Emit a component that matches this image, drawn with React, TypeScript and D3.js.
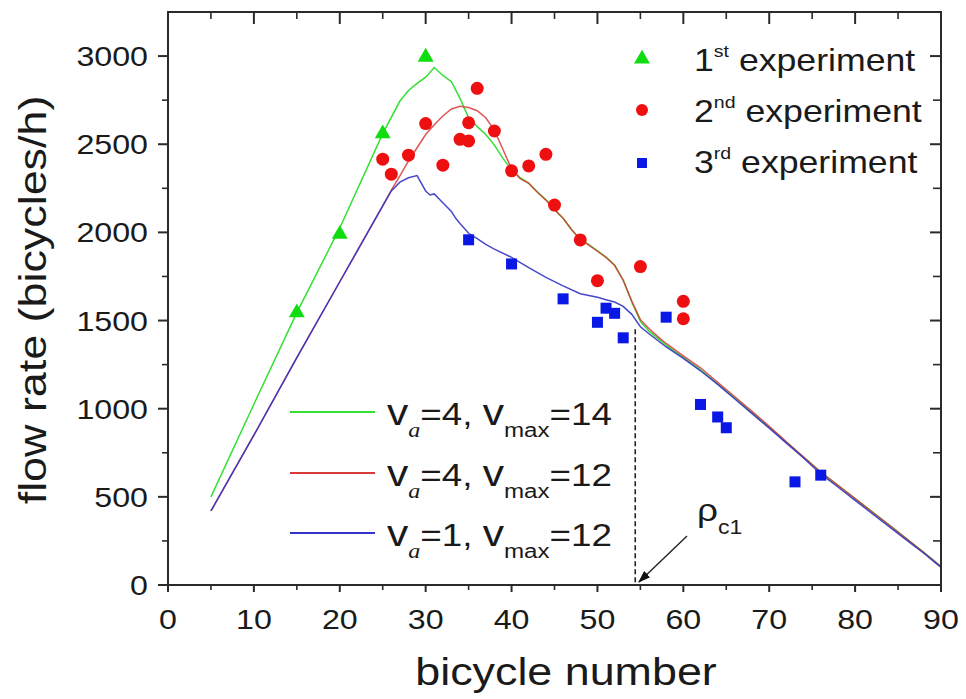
import React from 'react';
import * as d3 from 'd3';

const W = 966;
const H = 699;
const SX = 1.15;
const FONT = "'Liberation Sans', Arial, Helvetica, sans-serif";

// experiments
const exp1X = [15, 20, 25, 30];
const exp1Y = [1550, 1995, 2565, 3000];
const exp2X = [25, 26, 28, 30, 32, 34, 35, 35, 36, 38, 40, 42, 44, 45, 48, 50, 55, 60, 60];
const exp2Y = [2415, 2330, 2438, 2617, 2381, 2528, 2519, 2622, 2817, 2575, 2349, 2377, 2443, 2155, 1957, 1726, 1806, 1609, 1510];
const exp3X = [35, 40, 46, 50, 51, 52, 53, 58, 62, 64, 65, 73, 76];
const exp3Y = [1958, 1821, 1623, 1490, 1570, 1541, 1402, 1519, 1024, 953, 892, 585, 623];

// simulations
const simGreenX = [5, 10, 15, 20, 25, 27, 28, 29, 30, 31, 32, 33, 34, 35, 36, 37, 38, 39, 40, 41, 42, 43, 44, 45, 46, 47, 48, 49, 50, 51, 52, 53, 54, 55, 56, 57, 58, 60, 62, 64, 66, 68, 70, 72, 74, 76, 78, 80, 82, 84, 86, 88, 90];
const simGreenY = [500, 1025, 1545, 2025, 2560, 2745, 2805, 2845, 2880, 2935, 2890, 2855, 2760, 2650, 2600, 2555, 2495, 2420, 2355, 2310, 2280, 2230, 2185, 2130, 2080, 2015, 1960, 1930, 1895, 1860, 1815, 1730, 1605, 1495, 1440, 1400, 1360, 1290, 1220, 1140, 1060, 978, 895, 810, 725, 640, 565, 490, 415, 340, 262, 185, 105];
const simRedX = [5, 10, 15, 20, 25, 26, 27, 28, 29, 30, 31, 32, 33, 34, 35, 36, 37, 38, 39, 40, 41, 42, 43, 44, 45, 46, 47, 48, 49, 50, 51, 52, 53, 54, 55, 56, 57, 58, 60, 62, 64, 66, 68, 70, 72, 74, 76, 78, 80, 82, 84, 86, 88, 90];
const simRedY = [420, 850, 1290, 1720, 2150, 2240, 2320, 2405, 2480, 2555, 2610, 2660, 2700, 2715, 2708, 2690, 2650, 2580, 2470, 2360, 2305, 2278, 2228, 2183, 2128, 2080, 2015, 1960, 1928, 1893, 1858, 1812, 1728, 1610, 1505, 1455, 1410, 1370, 1300, 1232, 1150, 1068, 985, 900, 812, 726, 641, 565, 490, 414, 339, 262, 184, 104];
const simBlueX = [5, 10, 15, 20, 25, 26, 27, 28, 29, 30, 30.5, 31, 32, 33, 33.5, 34, 35, 36, 37, 38, 40, 42, 44, 46, 48, 50, 51, 52, 53, 54, 55, 56, 58, 60, 62, 64, 66, 68, 70, 72, 74, 76, 78, 80, 82, 84, 86, 88, 90];
const simBlueY = [420, 850, 1290, 1720, 2150, 2235, 2285, 2310, 2322, 2235, 2212, 2218, 2168, 2118, 2080, 2050, 1995, 1965, 1932, 1905, 1858, 1800, 1745, 1697, 1652, 1632, 1618, 1605, 1580, 1535, 1465, 1425, 1350, 1285, 1215, 1138, 1055, 972, 890, 805, 720, 630, 556, 480, 405, 330, 255, 180, 100];

const xTicks = [0, 10, 20, 30, 40, 50, 60, 70, 80, 90];
const xMinor = [5, 15, 25, 35, 45, 55, 65, 75, 85];
const yTicks = [0, 500, 1000, 1500, 2000, 2500, 3000];
const yMinor = [250, 750, 1250, 1750, 2250, 2750];

const legendExp = [
  { n: '1', sup: 'st' },
  { n: '2', sup: 'nd' },
  { n: '3', sup: 'rd' },
];
const legendSim = [
  { a: '4', vm: '14' },
  { a: '4', vm: '12' },
  { a: '1', vm: '12' },
];

const rhoC1X = 54.4;
const rhoC1Y = 1450;

const C_GREEN_LINE = '#33e033';
const C_RED_LINE = '#d83a3a';
const C_BLUE_LINE = '#3434c8';
const C_GREEN = '#10dd10';
const C_RED = '#ee1010';
const C_BLUE = '#0a18e6';
const AX = '#2a2a2a';

const T = ({ x, y, size, anchor = 'start', rotate = 0, children }: any) => (
  <g transform={`translate(${x},${y}) rotate(${rotate}) scale(${SX},1)`}>
    <text fontSize={size} textAnchor={anchor} fontFamily={FONT} fill="#1a1a1a">
      {children}
    </text>
  </g>
);

export default function App() {
  const L = 168, R = 941, TOP = 12, B = 585;
  const x = d3.scaleLinear().domain([0, 90]).range([L, R]);
  const y = d3.scaleLinear().domain([0, 3250]).range([B, TOP]);

  const mk = (xs: number[], ys: number[]) =>
    d3.line<number>().x((_, i) => x(xs[i])).y((_, i) => y(ys[i]))(xs.map((v) => v)) || '';

  const tri = d3.symbol().type(d3.symbolTriangle).size(110)() || '';
  const lineColors = [C_GREEN_LINE, C_RED_LINE, C_BLUE_LINE];
  const lineYs = [412, 473, 533];
  const expYs = [71, 122, 173];

  return (
    <svg width={W} height={H} style={{ position: 'absolute', left: 0, top: 0, background: '#fff' }}>
      <defs>
        <marker id="ah" viewBox="0 0 10 10" refX="9" refY="5" markerWidth="9" markerHeight="9" orient="auto">
          <path d="M0,1.5 L10,5 L0,8.5 z" fill="#111" />
        </marker>
      </defs>
      <rect x={0} y={0} width={W} height={H} fill="#fff" />

      {/* dashed rho_c1 line */}
      <line x1={x(rhoC1X)} x2={x(rhoC1X)} y1={y(rhoC1Y)} y2={B} stroke="#222" strokeWidth={1.6} strokeDasharray="5,3" />

      {/* simulation lines */}
      <path d={mk(simGreenX, simGreenY)} fill="none" stroke={C_GREEN_LINE} strokeWidth={1.5} />
      <path d={mk(simRedX, simRedY)} fill="none" stroke={C_RED_LINE} strokeWidth={1.5} strokeOpacity={0.85} />
      <path d={mk(simBlueX, simBlueY)} fill="none" stroke={C_BLUE_LINE} strokeWidth={1.5} strokeOpacity={0.9} />

      {/* experiments */}
      {exp1X.map((v, i) => (
        <path key={'t' + i} d={tri} transform={`translate(${x(v)},${y(exp1Y[i]) + 1})`} fill={C_GREEN} />
      ))}
      {exp2X.map((v, i) => (
        <circle key={'c' + i} cx={x(v)} cy={y(exp2Y[i])} r={6.5} fill={C_RED} />
      ))}
      {exp3X.map((v, i) => (
        <rect key={'s' + i} x={x(v) - 5.5} y={y(exp3Y[i]) - 5.5} width={11} height={11} fill={C_BLUE} />
      ))}

      {/* frame */}
      <rect x={L} y={TOP} width={R - L} height={B - TOP} fill="none" stroke={AX} strokeWidth={2} />

      {xTicks.map((t) => (
        <g key={'xt' + t}>
          <line x1={x(t)} x2={x(t)} y1={B} y2={B + 7} stroke={AX} strokeWidth={2} />
          <line x1={x(t)} x2={x(t)} y1={TOP} y2={TOP + 12} stroke={AX} strokeWidth={2} />
          <T x={x(t)} y={629} size={28} anchor="middle">{String(t)}</T>
        </g>
      ))}
      {xMinor.map((t) => (
        <g key={'xm' + t}>
          <line x1={x(t)} x2={x(t)} y1={B} y2={B + 5} stroke={AX} strokeWidth={1.6} />
          <line x1={x(t)} x2={x(t)} y1={TOP} y2={TOP + 7} stroke={AX} strokeWidth={1.6} />
        </g>
      ))}
      {yTicks.map((t) => (
        <g key={'yt' + t}>
          <line x1={L - 10} x2={L} y1={y(t)} y2={y(t)} stroke={AX} strokeWidth={2} />
          <line x1={R - 11} x2={R} y1={y(t)} y2={y(t)} stroke={AX} strokeWidth={2} />
          <T x={148} y={y(t) + 10} size={28} anchor="end">{String(t)}</T>
        </g>
      ))}
      {yMinor.map((t) => (
        <g key={'ym' + t}>
          <line x1={L - 6} x2={L} y1={y(t)} y2={y(t)} stroke={AX} strokeWidth={1.6} />
          <line x1={R - 8} x2={R} y1={y(t)} y2={y(t)} stroke={AX} strokeWidth={1.6} />
        </g>
      ))}

      {/* axis titles */}
      <T x={566} y={685} size={39} anchor="middle">bicycle number</T>
      <T x={46} y={300} size={39} anchor="middle" rotate={-90}>flow rate (bicycles/h)</T>

      {/* top-right legend */}
      <path d={tri} transform={`translate(642,59)`} fill={C_GREEN} />
      <circle cx={642} cy={110} r={6} fill={C_RED} />
      <rect x={637} y={158} width={10} height={10} fill={C_BLUE} />
      {legendExp.map((d, i) => (
        <T key={'le' + i} x={694} y={expYs[i]} size={31}>
          <tspan>{d.n}</tspan>
          <tspan fontSize={17} dy={-14}>{d.sup}</tspan>
          <tspan dy={14}>{' experiment'}</tspan>
        </T>
      ))}

      {/* bottom-left legend */}
      {legendSim.map((d, i) => (
        <g key={'ll' + i}>
          <line x1={290} x2={375} y1={lineYs[i]} y2={lineYs[i]} stroke={lineColors[i]} strokeWidth={2} />
          <T x={387} y={lineYs[i] + 13} size={32}>
            <tspan fontSize={37}>v</tspan>
            <tspan fontSize={21} dy={12} fontStyle="italic" fontFamily="'Liberation Serif', 'Times New Roman', serif">a</tspan>
            <tspan dy={-12}>{'=' + d.a + ', '}</tspan>
            <tspan fontSize={37}>v</tspan>
            <tspan fontSize={21} dy={12}>max</tspan>
            <tspan dy={-12}>{'=' + d.vm}</tspan>
          </T>
        </g>
      ))}

      {/* rho_c1 annotation */}
      <line x1={687} y1={536} x2={639} y2={582} stroke="#222" strokeWidth={1.4} markerEnd="url(#ah)" />
      <T x={697} y={521} size={32}>
        <tspan>ρ</tspan>
        <tspan fontSize={20} dy={13}>c1</tspan>
      </T>
    </svg>
  );
}
